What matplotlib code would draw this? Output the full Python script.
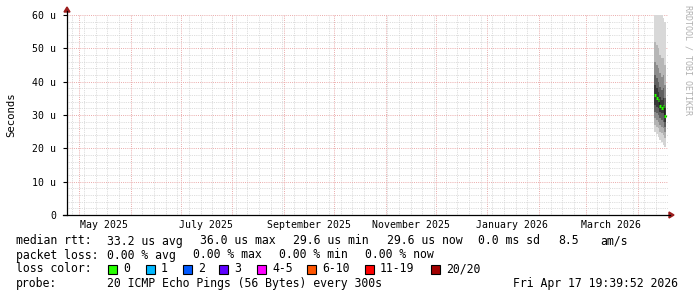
import datetime as dt
import matplotlib
matplotlib.use("Agg")
import matplotlib.pyplot as plt
import matplotlib.dates as mdates
import matplotlib.patches as mpatches
import matplotlib.lines as mlines
import matplotlib.transforms as mtransforms
from matplotlib.ticker import MultipleLocator, FixedLocator
import numpy as np

W, H = 697, 297
MONO = "DejaVu Sans Mono"

# --- data (values in microseconds) ---
bin_edges = [dt.datetime(2026, 4, 11) + dt.timedelta(days=k) for k in range(8)]
median = [36.0, 35.2, 34.4, 32.8, 32.1, 32.7, 29.6]
# per bin: min, p10 ... p90, max of the 20 pings (median in the middle)
ping_deciles = [
    [25.0, 27.0, 29.0, 31.0, 33.0, 36.0, 39.0, 42.0, 46.0, 52.0, 64.0],
    [24.2, 26.5, 28.5, 30.5, 32.5, 35.2, 38.0, 41.0, 45.0, 51.0, 63.0],
    [23.5, 26.0, 28.0, 30.0, 32.0, 34.4, 37.0, 40.0, 44.0, 50.0, 62.0],
    [22.5, 25.0, 27.0, 29.0, 31.0, 32.8, 35.5, 38.5, 42.5, 48.0, 61.0],
    [21.8, 24.5, 26.5, 28.5, 30.5, 32.1, 34.5, 37.5, 41.5, 47.0, 60.5],
    [21.0, 24.0, 26.0, 28.0, 30.5, 32.7, 35.0, 38.0, 42.0, 47.0, 59.0],
    [20.4, 23.0, 25.0, 26.5, 28.0, 29.6, 32.0, 35.0, 39.0, 45.0, 58.0],
]

month_labels = ["May 2025", "July 2025", "September 2025", "November 2025",
                "January 2026", "March 2026"]
month_label_dates = [dt.datetime(2025, 5, 16), dt.datetime(2025, 7, 16),
                     dt.datetime(2025, 9, 16), dt.datetime(2025, 11, 16),
                     dt.datetime(2026, 1, 16), dt.datetime(2026, 3, 16)]
y_ticks = [0, 10, 20, 30, 40, 50, 60]

loss_labels = ["0", "1", "2", "3", "4-5", "6-10", "11-19", "20/20"]
loss_colors = ["#26ff00", "#00b8ff", "#0059ff", "#5e00ff", "#ff00ff",
               "#ff5500", "#ff0000", "#a10000"]
loss_box_x = [108, 146, 183, 219, 257, 307, 365, 431]

rtt_fields = [("median rtt:", 16), ("33.2 us avg", 107), ("36.0 us max", 200),
              ("29.6 us min", 293), ("29.6 us now", 387), ("0.0 ms sd", 478),
              ("8.5", 558), ("am/s", 600)]
loss_fields = [("packet loss:", 16), ("0.00 % avg", 107), ("0.00 % max", 193),
               ("0.00 % min", 279), ("0.00 % now", 365)]
probe_text = "20 ICMP Echo Pings (56 Bytes) every 300s"
stamp_text = "Fri Apr 17 19:39:52 2026"


def fx(px):
    return px / W


def fy(py):
    return 1 - py / H


fig = plt.figure(figsize=(W / 100, H / 100), dpi=100)
fig.patch.set_facecolor("white")
ax = fig.add_axes([fx(67), fy(215), fx(668) - fx(67), fy(15) - fy(215)])

ax.set_xlim(dt.datetime(2025, 4, 23, 19), dt.datetime(2026, 4, 19, 7))
ax.set_ylim(0, 60)

# grid
ax.xaxis.set_major_locator(mdates.MonthLocator())
ax.xaxis.set_minor_locator(mdates.WeekdayLocator(byweekday=mdates.SU))
ax.yaxis.set_major_locator(FixedLocator(y_ticks))
ax.yaxis.set_minor_locator(MultipleLocator(2))
ax.grid(which="minor", color="#d2d2d2", linestyle=(0, (1, 1.2)),
        linewidth=0.6)
ax.grid(which="major", color="#eaaaaa", linestyle=(0, (1, 1.2)),
        linewidth=0.7)
ax.set_axisbelow(True)
for s in ax.spines.values():
    s.set_visible(False)

ax.set_xticklabels([])
ax.tick_params(axis="x", which="both", length=0)
ax.tick_params(axis="y", which="minor", length=0)
ax.tick_params(axis="y", which="major", length=3, width=0.8, pad=5,
               labelsize=7.1, direction="out")
ax.set_yticklabels(["0" if v == 0 else f"{v} u" for v in y_ticks],
                   family=MONO)

# smoke
edges = mdates.date2num(bin_edges)
qs = np.array(ping_deciles).T
shades = ["#d4d4d4", "#b2b2b2", "#8c8c8c", "#606060", "#383838",
          "#383838", "#606060", "#8c8c8c", "#b6b6b6", "#d8d8d8"]
for i, c in enumerate(shades):
    lo_s = np.append(qs[i], qs[i][-1])
    hi_s = np.append(qs[i + 1], qs[i + 1][-1])
    ax.fill_between(edges, lo_s, hi_s, step="post", color=c, linewidth=0)

med_s = np.append(median, median[-1])
ax.step(edges, med_s, where="post", color="#202020", linewidth=0.8)
ax.hlines(median, edges[:-1], edges[1:], color="#26ff00", linewidth=2.2)

lab_tr = mtransforms.blended_transform_factory(ax.transData, fig.transFigure)
for d, lab in zip(month_label_dates, month_labels):
    ax.text(mdates.date2num(d), fy(225), lab, transform=lab_tr,
            ha="center", va="center", fontsize=7.1, family=MONO)

# axes lines and arrows
fig.add_artist(mlines.Line2D([fx(67), fx(67)], [fy(215), fy(11)],
                             color="black", linewidth=0.9))
fig.add_artist(mlines.Line2D([fx(63), fx(670)], [fy(215), fy(215)],
                             color="black", linewidth=0.9))
fig.add_artist(mpatches.Polygon([[fx(64), fy(12)], [fx(70), fy(12)],
                                 [fx(67), fy(7)]], closed=True,
                                color="#9b1c1c"))
fig.add_artist(mpatches.Polygon([[fx(669), fy(212)], [fx(669), fy(218)],
                                 [fx(674), fy(215)]], closed=True,
                                color="#9b1c1c"))

# labels
fig.text(fx(11), fy(115), "Seconds", rotation=90, ha="center", va="center",
         fontsize=7.7, family=MONO)
fig.text(fx(688), fy(5), "RRDTOOL / TOBI OETIKER", rotation=270, ha="center",
         va="top", fontsize=6, family=MONO, color="#b0b0b0")

fs = 8.3
for txt, x in rtt_fields:
    fig.text(fx(x), fy(241), txt, ha="left", va="center", fontsize=fs, family=MONO)
for txt, x in loss_fields:
    fig.text(fx(x), fy(255), txt, ha="left", va="center", fontsize=fs, family=MONO)
fig.text(fx(16), fy(269), "loss color:", ha="left", va="center", fontsize=fs,
         family=MONO)
for lab, col, x in zip(loss_labels, loss_colors, loss_box_x):
    fig.add_artist(mpatches.Rectangle((fx(x), fy(273.5)), fx(9), 9 / H,
                                      facecolor=col, edgecolor="black",
                                      linewidth=0.8))
    fig.text(fx(x + 15), fy(269), lab, ha="left", va="center", fontsize=fs,
             family=MONO)
fig.text(fx(16), fy(283), "probe:", ha="left", va="center", fontsize=fs,
         family=MONO)
fig.text(fx(107), fy(283), probe_text, ha="left", va="center", fontsize=fs,
         family=MONO)
fig.text(fx(513), fy(283), stamp_text, ha="left", va="center", fontsize=fs,
         family=MONO)

fig.savefig("out.png", dpi=100, facecolor="white")
